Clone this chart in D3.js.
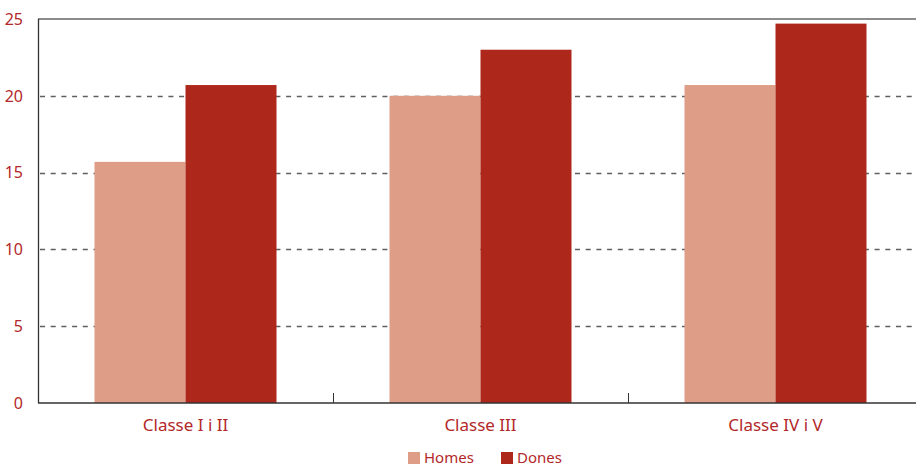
<!DOCTYPE html>
<html>
<head>
<meta charset="utf-8">
<script src="https://cdn.jsdelivr.net/npm/d3@7"></script>
<style>
  html, body { margin: 0; padding: 0; background: #fff; }
  svg { display: block; font-family: "Noto Sans", "Open Sans", sans-serif; }
</style>
</head>
<body>
<svg id="chart" width="916" height="466"></svg>
<script>
// Categories, series and tick values
const categories = ["Classe I i II", "Classe III", "Classe IV i V"];
const seriesNames = ["Homes", "Dones"];
const homes = [15.7, 20.0, 20.7];
const dones = [20.7, 23.0, 24.7];
const yTicks = [0, 5, 10, 15, 20, 25];

const colors = { Homes: "#dd9d87", Dones: "#ae271b" };
const textColor = "#b3282a";

const svg = d3.select("#chart");
const margin = { left: 38, top: 19, right: -7, bottom: 63 };
const W = 916, H = 466;
const x0 = margin.left, x1 = W - margin.right;
const yTop = margin.top, yBot = H - margin.bottom;

const x = d3.scaleBand().domain(categories).range([x0, x1]).paddingInner(0).paddingOuter(0);
const xs = d3.scaleBand().domain(seriesNames).range([0, x.bandwidth()]).paddingInner(0).paddingOuter(0.621);
const y = d3.scaleLinear().domain([0, 25]).range([yBot, yTop]);

// Dashed horizontal gridlines
svg.append("g").selectAll("line")
  .data(yTicks.filter(t => t > 0 && t < 25))
  .join("line")
  .attr("x1", x0 + 2).attr("x2", x1)
  .attr("y1", d => Math.round(y(d)) + 0.5).attr("y2", d => Math.round(y(d)) + 0.5)
  .attr("stroke", "#5f5f5f").attr("stroke-width", 1.3)
  .attr("stroke-dasharray", "5,5.7");

// Top frame line
svg.append("line")
  .attr("x1", x0).attr("x2", x1)
  .attr("y1", y(25)).attr("y2", y(25))
  .attr("stroke", "#666").attr("stroke-width", 1.6);

// Bars
const data = categories.map((c, i) => ({ c, vals: [{ s: "Homes", v: homes[i] }, { s: "Dones", v: dones[i] }] }));
const groups = svg.append("g").selectAll("g").data(data).join("g")
  .attr("transform", d => `translate(${x(d.c)},0)`);
groups.selectAll("rect").data(d => d.vals).join("rect")
  .attr("x", d => xs(d.s))
  .attr("width", xs.bandwidth())
  .attr("y", d => y(d.v))
  .attr("height", d => y(0) - y(d.v))
  .attr("fill", d => colors[d.s]);

// Bottom axis with inward ticks between categories
const xAxis = svg.append("g").attr("transform", `translate(0,${yBot})`);
xAxis.append("line").attr("x1", x0).attr("x2", x1).attr("y1", 0).attr("y2", 0)
  .attr("stroke", "#333").attr("stroke-width", 1.5);
xAxis.selectAll("line.sep").data(categories.slice(1)).join("line")
  .attr("class", "sep")
  .attr("x1", d => Math.round(x(d)) + 0.5).attr("x2", d => Math.round(x(d)) + 0.5)
  .attr("y1", -10).attr("y2", 0)
  .attr("stroke", "#333").attr("stroke-width", 1);
xAxis.selectAll("text").data(categories).join("text")
  .attr("x", d => x(d) + x.bandwidth() / 2)
  .attr("y", 28)
  .attr("text-anchor", "middle")
  .attr("fill", textColor)
  .attr("font-size", 17)
  .text(d => d);

// Left axis
svg.append("line").attr("x1", x0 + 0.5).attr("x2", x0 + 0.5)
  .attr("y1", yTop).attr("y2", yBot)
  .attr("stroke", "#333").attr("stroke-width", 1.3);
svg.append("g").selectAll("text").data(yTicks).join("text")
  .attr("x", 23)
  .attr("y", d => y(d))
  .attr("dy", "0.36em")
  .attr("text-anchor", "end")
  .attr("fill", textColor)
  .attr("font-size", 16)
  .text(d => d);

// Legend
const legend = svg.append("g").attr("transform", "translate(408,452)");
const legendX = { Homes: 0, Dones: 93 };
seriesNames.forEach(s => {
  const g = legend.append("g").attr("transform", `translate(${legendX[s]},0)`);
  g.append("rect").attr("width", 12).attr("height", 12).attr("fill", colors[s]);
  g.append("text").attr("x", 16).attr("y", 6).attr("dy", "0.36em")
    .attr("fill", textColor).attr("font-size", 15).text(s);
});
</script>
</body>
</html>
